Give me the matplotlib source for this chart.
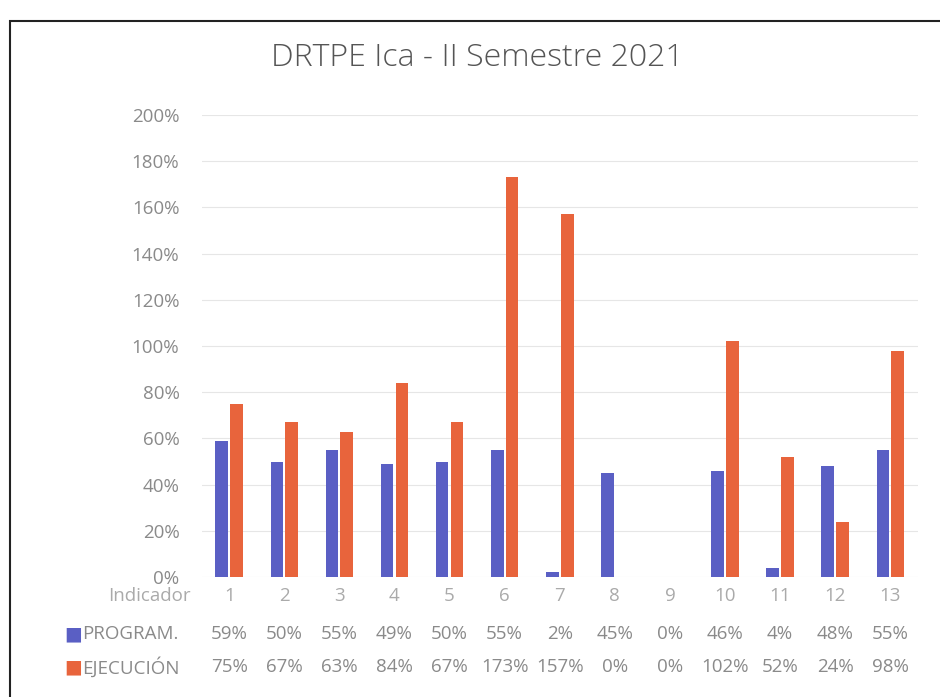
import numpy as np
import matplotlib.pyplot as plt
from matplotlib.transforms import blended_transform_factory

# data
indicadores = ["1", "2", "3", "4", "5", "6", "7", "8", "9", "10", "11", "12", "13"]
program = [59, 50, 55, 49, 50, 55, 2, 45, 0, 46, 4, 48, 55]
ejecucion = [75, 67, 63, 84, 67, 173, 157, 0, 0, 102, 52, 24, 98]
yticks = [0, 20, 40, 60, 80, 100, 120, 140, 160, 180, 200]

blue = "#5a5fc4"
orange = "#e8643c"
grey = "#8a8a8a"

plt.rcParams["font.family"] = ["Open Sans", "DejaVu Sans"]

fig = plt.figure(figsize=(9.4, 6.97), dpi=100)
ax = fig.add_axes([0.2145, 0.172, 0.762, 0.663])

x = np.arange(len(indicadores))
w = 0.23
ax.bar(x - w / 2 - 0.02, program, width=w, color=blue, zorder=3)
ax.bar(x + w / 2 + 0.02, ejecucion, width=w, color=orange, zorder=3)

ax.set_ylim(0, 200)
ax.set_xlim(-0.5, len(indicadores) - 0.5)
ax.set_yticks(yticks)
ax.set_yticklabels([f"{v}%" for v in yticks], color=grey, fontsize=13.5)
ax.tick_params(axis="y", length=0, pad=16)
ax.set_xticks([])
ax.grid(axis="y", color="#e6e6e6", linewidth=0.8, zorder=0)
for s in ax.spines.values():
    s.set_visible(False)

fig.suptitle("DRTPE Ica - II Semestre 2021", x=0.508, y=0.94, fontsize=23,
             color="#555555", fontweight="light")

# data table under the plot
fs = 13.5
tr = blended_transform_factory(ax.transData, fig.transFigure)
row_y = [0.145, 0.09, 0.043]
fig.text(0.203, row_y[0], "Indicador", ha="right", va="center", color="#aaaaaa", fontsize=fs)
fig.text(0.068, row_y[1], "■", ha="left", va="center", color=blue, fontsize=fs)
fig.text(0.087, row_y[1], "PROGRAM.", ha="left", va="center", color=grey, fontsize=fs)
fig.text(0.068, row_y[2], "■", ha="left", va="center", color=orange, fontsize=fs)
fig.text(0.087, row_y[2], "EJECUCIÓN", ha="left", va="center", color=grey, fontsize=fs)
for i, lab in enumerate(indicadores):
    ax.text(i, row_y[0], lab, transform=tr, ha="center", va="center", color="#aaaaaa", fontsize=fs)
    ax.text(i, row_y[1], f"{program[i]}%", transform=tr, ha="center", va="center", color=grey, fontsize=fs)
    ax.text(i, row_y[2], f"{ejecucion[i]}%", transform=tr, ha="center", va="center", color=grey, fontsize=fs)

# frame around the chart as in the scan
fig.add_artist(plt.Rectangle((0.011, -0.01), 1.0, 0.98, transform=fig.transFigure,
                             fill=False, edgecolor="#222222", linewidth=1.5))

fig.savefig("out.png", dpi=100)
